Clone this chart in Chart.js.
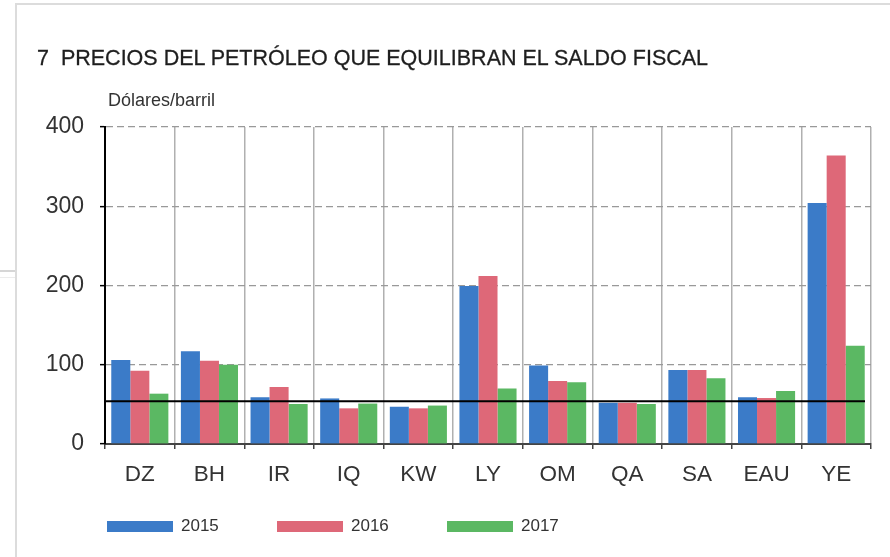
<!DOCTYPE html>
<html>
<head>
<meta charset="utf-8">
<script src="https://cdn.jsdelivr.net/npm/chart.js@4.4.1/dist/chart.umd.min.js"></script>
<style>
  html, body { margin: 0; padding: 0; background: #fff; }
  #wrap { position: relative; width: 890px; height: 557px; overflow: hidden; background: #fff; }
  canvas { position: absolute; left: 0; top: 0; }
  .frame-top { position: absolute; left: 16px; top: 3px; width: 874px; height: 2px; background: #dcdcdc; }
  .frame-left { position: absolute; left: 15px; top: 3px; width: 2px; height: 554px; background: #dcdcdc; }
  .frame-stub { position: absolute; left: 0; top: 270px; width: 15px; height: 2px; background: #d6d6d6; }
  .frame-stub2 { position: absolute; left: 0; top: 277px; width: 15px; height: 1px; background: #ececec; }
  #title { position: absolute; left: 37px; top: 48px; font: 21.5px "Liberation Sans", Arial, sans-serif; line-height: 21.5px; color: #1e1e1e; white-space: pre; -webkit-text-stroke: 0.3px #1e1e1e; }
  #unit { position: absolute; left: 108px; top: 91px; font: 18px "Liberation Sans", Arial, sans-serif; line-height: 18px; color: #333; white-space: pre; }
  #legend { position: absolute; left: 107px; top: 517px; display: flex; }
  #legend .item { width: 170px; display: flex; align-items: center; height: 18px; }
  #legend .box { width: 66px; height: 11px; margin-right: 8px; }
  #legend .txt { font: 17px "Liberation Sans", Arial, sans-serif; line-height: 18px; color: #333; }
</style>
</head>
<body>
<div id="wrap">
  <div class="frame-top"></div>
  <div class="frame-left"></div>
  <div class="frame-stub"></div>
  <div class="frame-stub2"></div>
  <canvas id="c" width="890" height="557"></canvas>
  <div id="title">7  PRECIOS DEL PETRÓLEO QUE EQUILIBRAN EL SALDO FISCAL</div>
  <div id="unit">Dólares/barril</div>
  <div id="legend"></div>
</div>
<script>
// ---- data ----
const categories = ["DZ", "BH", "IR", "IQ", "KW", "LY", "OM", "QA", "SA", "EAU", "YE"];
const seriesNames = ["2015", "2016", "2017"];
const values2015 = [106, 117, 59, 57.5, 47, 199.5, 99, 52, 93.5, 59, 304];
const values2016 = [92.5, 105, 72, 45, 45, 212, 79.5, 52, 93.5, 58, 364];
const values2017 = [63.5, 100, 50.5, 51, 48.5, 70, 78, 50.5, 83, 67, 124];
const yTicks = [0, 100, 200, 300, 400];
const referencePrice = 54;

const colors = ["#3b7bc8", "#de6878", "#5bb863"];

const refLinePlugin = {
  id: 'refLine',
  afterDatasetsDraw(chart) {
    const { ctx, chartArea, scales } = chart;
    const y = scales.y.getPixelForValue(referencePrice);
    ctx.save();
    ctx.strokeStyle = '#000';
    ctx.lineWidth = 2;
    ctx.beginPath();
    ctx.moveTo(chartArea.left, y);
    ctx.lineTo(chartArea.right - 6, y);
    ctx.stroke();
    ctx.restore();
  }
};

const FONT = '"Liberation Sans", Arial, sans-serif';

const chart = new Chart(document.getElementById('c'), {
  type: 'bar',
  data: {
    labels: categories,
    datasets: [values2015, values2016, values2017].map((v, i) => ({
      label: seriesNames[i],
      data: v,
      backgroundColor: colors[i],
      borderWidth: 0,
      categoryPercentage: 0.82,
      barPercentage: 1.0
    }))
  },
  options: {
    responsive: false,
    animation: false,
    devicePixelRatio: 1,
    layout: { padding: { left: 40, right: 19, top: 127, bottom: 68 } },
    plugins: {
      tooltip: { enabled: false },
      title: { display: false },
      legend: { display: false }
    },
    scales: {
      x: {
        grid: {
          display: true,
          offset: true,
          color: '#b0b0b0',
          lineWidth: 1.5,
          drawTicks: true,
          tickLength: 5,
          tickColor: '#444',
          tickWidth: 1.5
        },
        border: { display: true, color: '#444', width: 2 },
        ticks: {
          color: '#333',
          padding: 12,
          autoSkip: false,
          maxRotation: 0,
          font: { family: FONT, size: 22.5 }
        },
        afterFit(scale) { scale.height = 45; }
      },
      y: {
        min: 0,
        max: 400,
        afterBuildTicks(scale) { scale.ticks = yTicks.map(v => ({ value: v })); },
        grid: {
          color: (c) => (c.tick && c.tick.value === 0) ? 'rgba(0,0,0,0)' : '#999',
          lineWidth: 1.3,
          drawTicks: true,
          tickLength: 5,
          tickColor: '#000',
          tickWidth: 1.5,
          tickBorderDash: []
        },
        border: { display: true, color: '#000', width: 2, dash: [7, 4] },
        ticks: {
          color: '#333',
          padding: 16,
          font: { family: FONT, size: 23 }
        },
        afterFit(scale) { scale.width = 65; }
      }
    }
  },
  plugins: [refLinePlugin]
});

// legend built from the chart's own datasets
const legendEl = document.getElementById('legend');
chart.data.datasets.forEach(ds => {
  const item = document.createElement('div');
  item.className = 'item';
  const box = document.createElement('span');
  box.className = 'box';
  box.style.background = ds.backgroundColor;
  const txt = document.createElement('span');
  txt.className = 'txt';
  txt.textContent = ds.label;
  item.appendChild(box);
  item.appendChild(txt);
  legendEl.appendChild(item);
});
</script>
</body>
</html>
